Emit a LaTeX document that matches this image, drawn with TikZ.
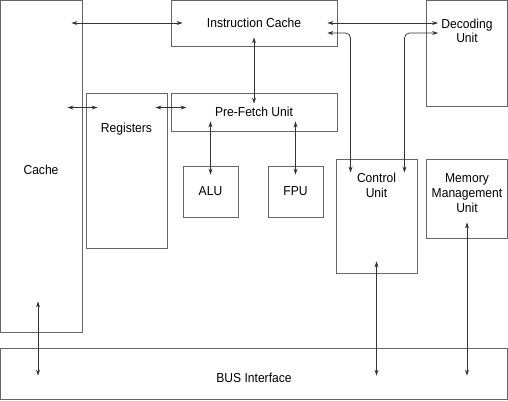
\documentclass[tikz,border=0pt]{standalone}
\usepackage{fontspec}
\setmainfont[FakeStretch=0.93]{Liberation Sans}
\usepackage{tikz}
\usetikzlibrary{arrows.meta,positioning}

\begin{document}
\begin{tikzpicture}[
  x=1pt, y=-1pt,
  unit/.style={rectangle, draw=black!60, line width=0.9pt, inner sep=0pt, align=center},
  link/.style={<->, draw=black!80, line width=0.75pt},
  >={Stealth[length=6pt,width=4pt]},
  font=\fontsize{13pt}{15pt}\selectfont
]
\useasboundingbox (0,0) rectangle (508,400);
% units
\node[unit, minimum width=82pt, minimum height=332pt,
  label={[yshift=-4pt]center:Cache}] (cache) at (41,166) {};
\node[unit, minimum width=166pt, minimum height=46pt] (icache) at (254,23) {Instruction Cache};
\node[unit, minimum width=81pt, minimum height=106pt,
  label={[anchor=north, align=center, label distance=-15.5pt]north:Decoding\\[-0.5pt]Unit}] (dec) at (467,53) {};
\node[unit, minimum width=81pt, minimum height=155pt,
  label={[anchor=north, label distance=-27pt]north:Registers}] (reg) at (126.5,170.5) {};
\node[unit, minimum width=166pt, minimum height=38pt] (pfu) at (254,112) {Pre-Fetch Unit};
\node[unit, minimum width=55pt, minimum height=51pt] (alu) at (210.5,191.5) {ALU};
\node[unit, minimum width=55pt, minimum height=51pt] (fpu) at (295.5,191.5) {FPU};
\node[unit, minimum width=81pt, minimum height=114pt,
  label={[anchor=north, align=center, label distance=-11pt]north:Control\\Unit}] (cu) at (376.5,216) {};
\node[unit, minimum width=81pt, minimum height=79pt,
  label={[anchor=north, align=center, label distance=-11.5pt]north:Memory\\Management\\Unit}] (mmu) at (467,198.5) {};
\node[unit, minimum width=507pt, minimum height=51pt,
  label={[yshift=-4pt]center:BUS Interface}] (bus) at (254,373.5) {};
% links
\draw[link] ([xshift=-11pt]cache.east |- icache.west) -- ([xshift=12pt]icache.west);
\draw[link] ([xshift=-15pt,yshift=-15pt]cache.east |- reg.north) -- ([xshift=12pt,yshift=-15pt]reg.north west);
\draw[link] ([xshift=-12pt,yshift=-15pt]reg.north east) -- ([xshift=16pt,yshift=-15pt]pfu.north west);
\draw[link] ([yshift=9pt]icache.south) -- ([yshift=-11pt]pfu.north);
\draw[link] ([yshift=10pt]pfu.south -| alu.north) -- ([yshift=-9pt]alu.north);
\draw[link] ([yshift=10pt]pfu.south -| fpu.north) -- ([yshift=-9pt]fpu.north);
\draw[link] ([xshift=-10pt]icache.east) -- ([xshift=12pt]dec.west |- icache.east);
\draw[link, rounded corners=5pt] ([xshift=-10pt,yshift=-10pt]icache.east) -| ([xshift=15pt,yshift=-14pt]cu.north west);
\draw[link, rounded corners=5pt] ([xshift=12pt,yshift=-10pt]dec.west |- icache.east) -| ([xshift=-13pt,yshift=-14pt]cu.north east);
\draw[link] ([yshift=12pt]cu.south) -- ([yshift=-28pt]cu.south |- bus.north);
\draw[link] ([yshift=16pt]mmu.south) -- ([yshift=-28pt]mmu.south |- bus.north);
\draw[link] ([xshift=-3pt,yshift=31pt]cache.south) -- ([xshift=-3pt,yshift=-28pt]cache.south |- bus.north);
\end{tikzpicture}
\end{document}
